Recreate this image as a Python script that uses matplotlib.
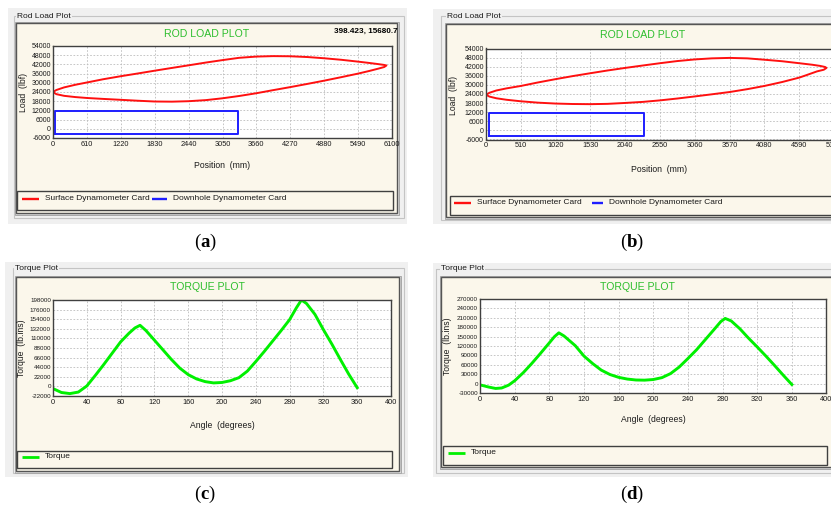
import matplotlib.pyplot as plt
from matplotlib.patches import Rectangle

plt.rcParams['font.family'] = ['Liberation Sans', 'DejaVu Sans']
plt.rcParams['axes.unicode_minus'] = False
plt.rcParams['mathtext.fontset'] = 'custom'
plt.rcParams['mathtext.rm'] = 'Liberation Serif'
plt.rcParams['mathtext.bf'] = 'Liberation Serif:bold'

# surface dynamometer card, well A (position mm, load lbf)
surf_a_up_x = [0, 60, 200, 400, 610, 900, 1220, 1530, 1830, 2140, 2440, 2750, 3050,
               3350, 3660, 3960, 4270, 4580, 4880, 5190, 5490, 5700, 5850, 5950, 6000]
surf_a_up_y = [24000, 25300, 27000, 28700, 30200, 32300, 34300, 36100, 37900, 39700,
               41400, 43200, 44800, 46300, 47100, 47400, 47300, 46800, 46000, 45000,
               43800, 42900, 42200, 41700, 41300]
surf_a_dn_x = [6000, 5960, 5850, 5700, 5490, 5190, 4880, 4580, 4270, 3960, 3660, 3350,
               3050, 2750, 2440, 2140, 1830, 1530, 1220, 900, 610, 400, 200, 60, 0]
surf_a_dn_y = [41300, 40300, 39200, 37800, 36000, 33700, 31400, 29300, 27200, 25200,
               23200, 21400, 19900, 18700, 18000, 17700, 17800, 18300, 18900, 19500,
               20100, 20700, 21500, 22600, 24000]
down_a_x = [40, 3330, 3330, 40, 40]
down_a_y = [-3500, -3500, 11800, 11800, -3500]

# surface dynamometer card, well B
surf_b_up_x = [0, 50, 150, 300, 510, 760, 1020, 1270, 1530, 1780, 2040, 2300, 2550,
               2800, 3060, 3310, 3570, 3830, 4080, 4340, 4590, 4780, 4900, 4970, 4990]
surf_b_up_y = [23500, 24800, 26300, 27700, 29300, 31600, 33800, 35800, 37700, 39500,
               41200, 42800, 44300, 45700, 46800, 47500, 47800, 47500, 46600, 45600,
               44300, 43300, 42500, 41800, 41200]
surf_b_dn_x = [4990, 4950, 4850, 4700, 4590, 4340, 4080, 3830, 3570, 3310, 3060, 2800,
               2550, 2300, 2040, 1780, 1530, 1270, 1020, 760, 510, 300, 150, 50, 0]
surf_b_dn_y = [41200, 40000, 38900, 36500, 34800, 31900, 29300, 27200, 25300, 23800,
               22400, 21000, 19800, 18800, 18100, 17500, 17300, 17400, 17700, 18300,
               19200, 20200, 21200, 22300, 23500]
down_b_x = [40, 2310, 2310, 40, 40]
down_b_y = [-3800, -3800, 11600, 11600, -3800]

# gearbox torque vs crank angle
torque_c_ang = [0, 10, 20, 30, 40, 50, 60, 70, 80, 90, 97, 103, 110, 120, 130, 140, 150,
                160, 170, 180, 190, 200, 210, 220, 230, 240, 250, 260, 270, 280, 288,
                294, 300, 310, 320, 330, 340, 350, 360]
torque_c = [-5000, -14000, -16500, -13000, 1000, 25000, 50000, 76000, 102000, 122000,
            134000, 140000, 128000, 106000, 84000, 62000, 42000, 27000, 17000, 11000,
            8000, 9000, 13000, 20000, 35000, 57000, 80000, 104000, 128000, 153000,
            180000, 198000, 190000, 165000, 130000, 97000, 62000, 28000, -3000]
torque_d_ang = [0, 10, 18, 25, 33, 40, 50, 60, 70, 80, 86, 91, 97, 110, 120, 130, 140,
                150, 160, 170, 180, 190, 200, 210, 220, 230, 240, 250, 260, 270, 278,
                283, 290, 300, 310, 320, 330, 340, 350, 360]
torque_d = [-4000, -11000, -15500, -14000, -5000, 9000, 35000, 65000, 97000, 130000,
            150000, 162000, 152000, 121000, 88000, 64000, 43000, 29000, 20000, 14500,
            11500, 11000, 13000, 19000, 32000, 53000, 80000, 108000, 140000, 172000,
            198000, 208000, 200000, 175000, 145000, 117000, 88000, 58000, 27000, -3000]

W, H = 831, 512
BEIGE = '#FBF7EB'
WIN = '#F0F0F0'
TITLE_GREEN = '#2DBE2D'
INK = '#1A1A1A'

fig = plt.figure(figsize=(W / 100, H / 100), dpi=100)
fig.patch.set_facecolor('white')
bg = fig.add_axes([0, 0, 1, 1], zorder=0)
bg.set_xlim(0, W)
bg.set_ylim(H, 0)
bg.axis('off')


def rect(x0, y0, x1, y1, **kw):
    bg.add_patch(Rectangle((x0, y0), x1 - x0, y1 - y0, **kw))


def panel(win, group, label, label_x, inner, title, title_xy, legend):
    rect(*win, facecolor=WIN, edgecolor='none')
    rect(*group, facecolor='none', edgecolor='#C4C4C4', lw=0.8)
    bg.text(label_x, group[1], label, fontsize=6, va='center', ha='left', color=INK,
            bbox=dict(facecolor=WIN, edgecolor='none', pad=0.6))
    x0, y0, x1, y1 = inner
    rect(x0 - 1.5, y0 - 1.5, x1 + 1.5, y1 + 1.5, facecolor='#DADADA', edgecolor='#A8A8A8', lw=0.7)
    rect(*inner, facecolor=BEIGE, edgecolor='#555555', lw=1.0)
    bg.text(title_xy[0], title_xy[1], title, fontsize=7.6, color=TITLE_GREEN,
            ha='center', va='center')
    rect(*legend, facecolor=BEIGE, edgecolor='#404040', lw=1.0)


def legend_item(x0, x1, y, text, color, lw=1.7):
    bg.plot([x0, x1], [y, y], color=color, lw=lw, solid_capstyle='butt')
    bg.text(x1 + 6, y, text, fontsize=6.0, va='center', ha='left', color=INK)


def chart(box, xlim, xstep, ylim, ystep, xlabel, ylabel, xlab_xy, ylab_xy, ysize=5.3):
    x0, y0, x1, y1 = box
    ax = fig.add_axes([x0 / W, 1 - y1 / H, (x1 - x0) / W, (y1 - y0) / H], zorder=2)
    ax.set_facecolor('white')
    ax.set_xlim(*xlim)
    ax.set_ylim(*ylim)
    ax.set_xticks(range(xlim[0], xlim[1] + 1, xstep))
    ax.set_yticks(range(ylim[0], ylim[1] + 1, ystep))
    ax.tick_params(length=0, pad=2, labelsize=5.3, labelcolor=INK)
    ax.tick_params(axis='y', labelsize=ysize, pad=1.5)
    ax.grid(True, color='#BDBDBD', lw=0.6, ls=(0, (2, 2)))
    for s in ax.spines.values():
        s.set_color('#404040')
        s.set_linewidth(1.0)
    bg.text(xlab_xy[0], xlab_xy[1], xlabel, fontsize=6.2, ha='center', va='center', color=INK)
    bg.text(ylab_xy[0], ylab_xy[1], ylabel, fontsize=6.2, ha='center', va='center',
            rotation=90, color=INK)
    return ax


# (a) rod load, well A
panel((8, 8, 407, 224), (14, 16, 404, 218), 'Rod Load Plot', 17, (16, 23, 397, 213),
      'ROD LOAD PLOT', (207, 34), (17, 191, 393, 210))
bg.text(398, 31.5, '398.423, 15680.7', fontsize=5.9, fontweight='bold', ha='right',
        va='center')
ax = chart((53, 46, 392, 138), (0, 6100), 610, (-6000, 54000), 6000,
           'Position  (mm)', 'Load  (lbf)', (222, 165), (23, 92), ysize=5.0)
ax.plot(surf_a_up_x + surf_a_dn_x, surf_a_up_y + surf_a_dn_y, color='#FF1010', lw=1.4)
ax.plot(down_a_x, down_a_y, color='#1E1EFF', lw=1.4)
legend_item(22, 39, 199, 'Surface Dynamometer Card', '#FF1010')
legend_item(152, 167, 199, 'Downhole Dynamometer Card', '#1E1EFF')

# (b) rod load, well B
panel((433, 9, 845, 224), (441, 16, 845, 220), 'Rod Load Plot', 447, (446, 24, 845, 217),
      'ROD LOAD PLOT', (643, 35), (450, 196, 845, 215))
ax = chart((486, 48.5, 834, 139.5), (0, 5100), 510, (-6000, 54000), 6000,
           'Position  (mm)', 'Load  (lbf)', (659, 170), (454, 95), ysize=5.0)
ax.plot(surf_b_up_x + surf_b_dn_x, surf_b_up_y + surf_b_dn_y, color='#FF1010', lw=1.4)
ax.plot(down_b_x, down_b_y, color='#1E1EFF', lw=1.4)
legend_item(454, 471, 203, 'Surface Dynamometer Card', '#FF1010')
legend_item(592, 603, 203, 'Downhole Dynamometer Card', '#1E1EFF')

# (c) torque, well A
panel((5, 262, 408, 477), (13, 268, 404, 473), 'Torque Plot', 15, (16, 277, 399, 471),
      'TORQUE PLOT', (207, 287), (17, 451, 392, 468))
ax = chart((53, 300, 391, 396), (0, 400), 40, (-22000, 198000), 22000,
           'Angle  (degrees)', 'Torque  (lb.ins)', (222, 425), (22, 348), ysize=4.5)
ax.plot(torque_c_ang, torque_c, color='#00F000', lw=2.1)
legend_item(22, 39, 457, 'Torque', '#00F000', lw=2.0)

# (d) torque, well B
panel((433, 263, 845, 477), (436, 269, 845, 473), 'Torque Plot', 441, (441, 277, 845, 467),
      'TORQUE PLOT', (637, 287), (443, 446, 827, 465))
ax = chart((480, 299, 826.5, 393), (0, 400), 40, (-30000, 270000), 30000,
           'Angle  (degrees)', 'Torque  (lb.ins)', (653, 420), (448, 346), ysize=4.5)
ax.plot(torque_d_ang, torque_d, color='#00F000', lw=2.1)
legend_item(448, 465, 453, 'Torque', '#00F000', lw=2.0)

# sub-figure captions
for x, y, c in [(205, 242, 'a'), (632, 242, 'b'), (205, 494, 'c'), (632, 494, 'd')]:
    bg.text(x, y, r'$\mathrm{(}\mathbf{' + c + r'}\mathrm{)}$', fontsize=13.5,
            ha='center', va='center')

fig.savefig('out.png', dpi=100)
